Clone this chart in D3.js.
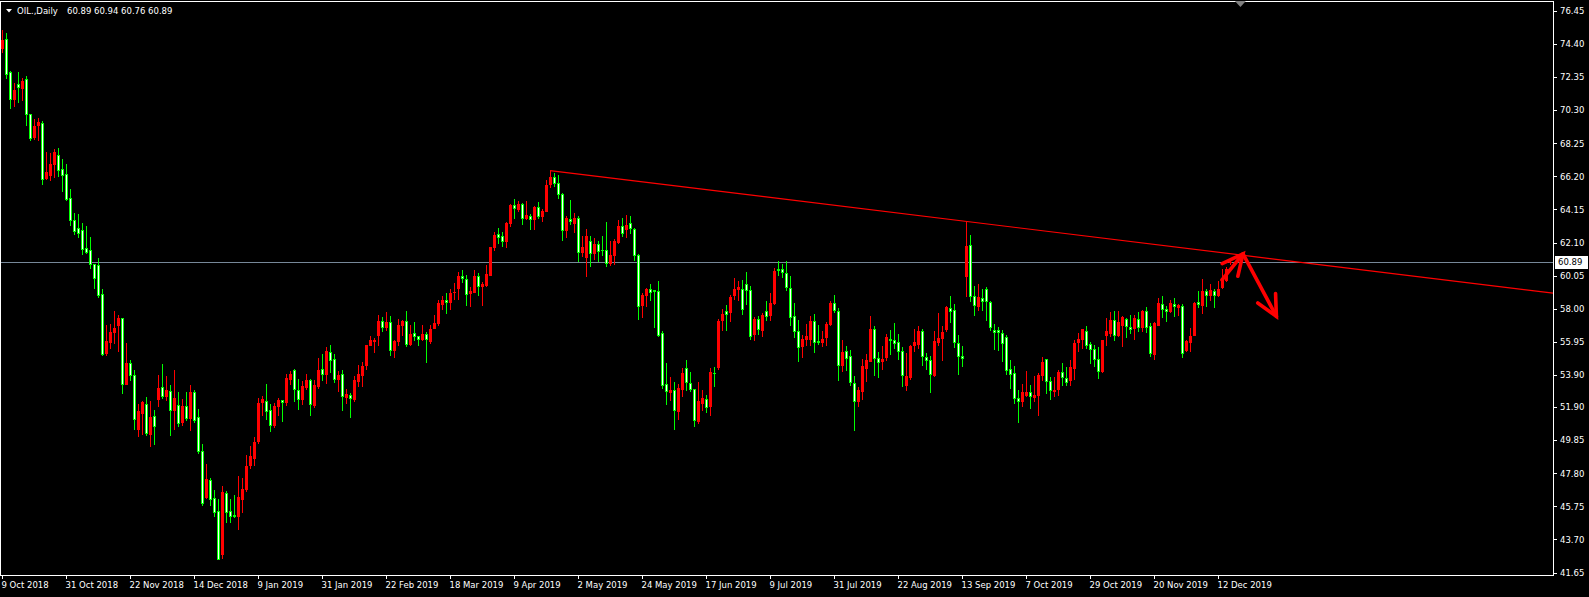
<!DOCTYPE html>
<html><head><meta charset="utf-8">
<script src="https://cdn.jsdelivr.net/npm/d3@7"></script>
<style>html,body{margin:0;padding:0;background:#000;overflow:hidden}svg{display:block}</style>
</head><body><svg id="c" width="1589" height="597"></svg>
<script>
const symbolTitle = "OIL.,Daily";
const lastBarOHLC = [60.89, 60.94, 60.76, 60.89];
const bidPrice = 60.89;

const opens = [
74.18,74.70,72.65,70.97,71.92,71.67,72.22,70.05,68.64,69.39,
69.52,66.13,66.30,66.94,67.51,66.66,66.34,64.85,63.50,63.01,
62.88,61.78,61.65,60.77,60.73,58.92,55.25,55.96,56.57,57.00,
57.43,53.36,54.66,53.91,50.56,51.52,52.12,50.26,51.33,52.43,
53.15,52.57,52.90,51.70,52.03,50.96,51.97,51.21,52.86,51.31,
49.21,46.32,47.41,46.28,45.49,42.77,46.60,45.49,45.24,45.14,
46.23,46.85,48.30,48.73,49.78,52.20,52.30,51.74,50.77,51.95,
52.36,52.20,53.66,54.22,52.94,52.43,53.15,53.60,52.05,53.23,
54.26,53.97,55.31,54.88,53.66,53.97,52.53,52.67,52.42,53.50,
53.91,54.49,55.77,55.99,56.39,57.26,56.84,57.17,55.42,55.97,
56.97,57.21,55.81,56.51,56.29,56.14,56.45,55.97,56.80,57.11,
58.31,58.55,58.39,59.01,59.26,60.04,59.84,58.95,59.05,60.04,
59.38,59.48,60.10,61.80,62.62,62.52,62.17,63.30,64.44,64.17,
64.50,63.65,63.76,63.55,64.29,63.72,64.07,65.74,66.15,65.78,
65.12,62.89,63.55,63.30,63.61,61.49,61.20,62.21,61.45,62.02,
61.65,61.65,60.83,61.34,62.11,63.14,62.95,63.30,62.93,61.32,
58.21,58.87,59.22,59.13,59.11,56.49,53.35,52.82,52.98,51.64,
53.05,54.33,53.40,53.02,51.02,52.16,52.41,51.95,54.04,54.37,
57.28,57.87,57.77,58.82,59.22,59.22,59.53,59.17,56.45,57.38,
56.70,57.87,57.59,58.35,60.48,60.48,60.21,59.28,57.52,56.64,
55.71,56.12,56.12,57.26,55.98,55.91,56.25,57.05,58.35,57.87,
54.49,55.40,55.05,53.40,52.26,52.88,54.33,54.74,56.76,54.94,
54.74,54.99,56.12,56.04,55.93,55.36,53.25,53.75,55.73,55.83,
56.64,55.01,54.80,53.91,55.91,56.18,56.74,58.04,57.94,55.87,
55.09,60.00,61.94,58.76,58.18,58.66,59.22,58.41,56.70,56.70,
56.49,56.24,54.26,54.02,52.47,52.26,52.67,52.82,52.53,52.67,
53.91,54.86,53.50,52.88,53.02,54.08,53.70,53.56,54.32,55.91,
56.12,56.59,55.81,55.52,54.88,54.12,56.39,56.49,57.32,56.35,
57.01,57.36,56.86,56.80,57.36,56.86,57.83,56.95,55.21,57.01,
58.31,58.00,57.88,58.31,58.08,58.18,55.42,55.91,56.39,58.39,
58.25,59.07,58.82,59.07,58.87,59.32,59.79,60.89];

const highs = [
75.25,75.08,72.73,71.99,72.65,72.31,72.42,70.09,69.75,69.81,
69.64,67.72,67.66,67.89,67.96,67.28,66.98,65.42,63.95,63.89,
63.33,63.14,62.46,60.80,61.16,59.24,57.00,57.06,57.87,57.58,
57.45,55.85,54.85,54.19,52.12,52.27,52.54,52.26,51.70,53.91,
54.59,53.85,53.29,54.22,52.86,52.43,52.86,53.29,52.98,51.81,
49.64,48.40,47.53,46.79,46.23,47.04,46.73,46.23,46.48,47.62,
47.51,48.94,49.51,50.03,52.47,52.61,53.35,52.12,52.16,52.47,
52.36,53.97,54.12,54.28,53.66,53.50,53.97,53.66,53.60,54.94,
55.21,55.62,55.77,55.21,54.16,54.22,53.02,52.77,53.85,54.49,
54.72,55.77,56.33,56.18,57.59,57.48,57.79,57.56,56.08,57.36,
57.32,57.87,57.01,57.17,56.33,57.01,56.53,57.01,57.59,58.51,
58.76,58.97,59.22,59.59,60.29,60.41,60.10,59.34,60.41,60.21,
59.63,60.72,61.80,62.75,62.99,62.75,63.35,64.50,64.81,64.69,
64.54,64.69,63.88,64.38,64.64,64.17,65.99,66.56,66.44,66.30,
65.20,63.72,64.75,63.92,63.72,62.52,62.93,62.52,62.37,62.21,
62.52,63.35,62.17,62.31,63.51,63.61,63.82,63.76,62.99,61.40,
58.97,59.28,59.55,59.18,59.73,56.64,54.64,53.77,53.44,53.35,
54.33,54.84,54.08,53.05,53.46,52.94,52.67,54.33,54.39,57.36,
57.98,58.25,58.87,59.90,59.73,59.79,60.27,59.42,57.48,57.57,
57.73,58.49,58.97,60.52,60.97,60.79,60.93,60.04,58.35,57.32,
56.39,57.07,57.52,57.69,57.01,56.59,57.15,58.49,58.87,58.04,
56.08,55.67,55.46,53.81,53.15,54.88,55.21,57.52,56.90,55.30,
55.71,56.45,56.66,57.11,56.45,55.62,55.25,55.77,56.74,56.90,
56.74,55.25,55.09,56.64,57.73,56.95,58.18,58.80,58.31,56.39,
55.71,63.41,62.58,59.42,59.53,59.22,59.34,58.49,57.07,56.86,
56.70,56.39,54.84,54.43,52.94,53.35,54.12,53.29,53.81,54.02,
54.99,54.90,53.77,53.75,54.22,54.63,54.39,54.84,56.04,56.49,
56.76,56.95,55.91,55.77,55.60,56.08,57.42,57.79,57.87,57.87,
57.52,57.42,57.59,57.59,57.79,57.94,58.10,57.11,57.15,58.66,
58.76,58.18,58.56,58.66,58.31,58.31,56.04,56.80,58.39,59.11,
59.83,59.22,59.55,59.22,59.73,60.48,60.60,60.94];

const lows = [
73.91,72.31,70.45,70.56,70.84,70.94,69.41,68.43,68.53,68.43,
65.70,66.04,65.98,66.19,66.25,65.29,64.76,63.16,62.61,62.46,
61.37,61.43,60.50,59.26,58.71,55.10,55.10,55.59,55.85,55.36,
52.76,53.36,53.55,50.56,50.09,50.26,50.20,49.47,49.64,51.99,
52.47,52.32,50.20,50.57,50.75,50.82,51.08,50.47,50.96,49.06,
45.82,46.28,45.86,45.14,42.46,42.56,44.77,44.77,45.10,44.33,
45.39,46.69,48.11,48.30,49.68,51.44,51.17,50.40,50.65,51.44,
51.02,52.05,53.35,52.26,51.81,52.10,53.02,51.43,51.89,53.09,
53.60,53.39,54.06,53.44,52.88,51.74,52.16,51.27,52.26,53.23,
53.19,54.26,55.77,55.29,55.77,56.63,56.70,55.11,54.98,55.73,
56.39,55.67,55.77,56.08,55.77,56.08,54.67,55.87,56.80,56.97,
57.98,57.73,57.95,58.60,58.60,59.63,58.25,58.14,59.01,58.82,
58.21,59.38,60.10,61.61,62.07,61.86,61.80,63.10,63.65,64.03,
63.26,63.55,62.95,62.93,63.61,63.41,64.03,65.57,65.61,64.89,
62.23,62.42,63.26,62.73,60.93,61.28,60.00,60.62,61.07,60.93,
61.34,60.62,60.68,60.78,62.07,62.48,62.44,62.68,60.99,57.36,
57.48,58.14,58.56,56.84,56.33,53.09,52.12,52.36,50.55,51.17,
52.61,52.98,52.88,50.71,50.92,51.70,51.58,51.44,53.23,54.26,
56.66,56.70,57.21,58.62,58.56,57.69,58.31,56.12,56.04,56.45,
56.29,57.28,57.28,58.31,60.10,59.96,59.18,57.01,56.22,54.74,
54.99,55.77,55.73,55.30,55.83,55.67,55.77,57.01,57.77,53.56,
54.12,54.22,53.29,50.51,51.95,52.41,53.54,54.74,53.91,53.75,
54.26,54.84,55.21,55.56,54.88,53.23,52.94,53.66,55.36,55.56,
54.53,54.28,52.82,53.81,55.73,54.80,56.60,57.15,55.61,53.97,
54.43,58.76,58.45,57.63,57.94,57.94,57.32,56.66,55.52,55.42,
54.74,53.97,53.09,52.16,50.96,51.99,52.57,51.85,52.30,51.39,
53.60,52.78,52.41,52.57,52.67,53.29,53.29,53.29,53.64,55.40,
55.56,55.56,54.63,54.43,53.70,54.06,55.77,56.28,56.08,56.33,
55.71,56.22,56.49,56.12,56.59,56.59,56.53,55.05,54.88,57.01,
57.46,57.22,57.77,57.52,57.63,55.00,55.36,55.36,56.39,58.08,
57.73,58.18,58.51,58.08,58.76,59.28,59.70,60.76];

const closes = [
74.65,72.52,70.99,71.56,71.71,72.09,70.05,68.60,69.32,69.54,
66.02,66.45,66.98,67.72,66.62,66.30,64.80,63.52,62.84,62.67,
61.73,61.54,60.75,59.90,58.83,55.21,56.02,56.57,56.83,57.41,
53.33,54.61,53.87,51.16,51.63,52.20,50.28,51.29,50.71,53.09,
52.57,52.98,51.74,52.47,50.92,51.95,51.21,52.86,51.08,49.16,
45.97,47.47,46.21,45.41,42.46,46.67,45.39,45.14,45.14,46.30,
46.85,48.28,48.85,49.76,52.16,52.39,51.64,50.77,51.99,52.36,
52.20,53.73,53.95,53.02,52.40,53.21,53.60,52.10,53.27,54.22,
53.97,55.40,54.84,53.66,53.91,52.57,52.73,52.45,53.60,53.97,
54.47,55.77,56.08,56.08,57.26,56.86,57.17,55.42,56.02,57.01,
57.26,55.81,56.45,56.29,56.14,56.45,56.12,56.76,57.11,58.35,
58.55,58.39,58.99,59.05,60.04,59.88,58.91,59.11,60.04,59.38,
59.55,60.17,61.80,62.58,62.46,62.17,63.30,64.44,64.21,64.50,
63.65,63.82,63.55,64.33,63.72,64.03,65.68,66.15,65.78,65.10,
62.85,63.61,63.41,63.61,61.49,61.82,62.52,61.45,62.02,61.55,
61.61,60.83,61.34,62.17,63.14,62.68,63.20,62.99,61.34,58.14,
58.87,59.22,59.03,59.07,56.39,53.25,52.88,52.94,51.70,53.09,
54.02,53.44,53.05,51.09,52.26,52.47,51.91,54.08,54.00,57.21,
57.67,57.69,58.72,59.24,59.32,57.98,59.13,56.29,57.38,56.76,
57.63,57.52,58.35,60.31,60.37,60.25,59.34,57.48,56.60,55.63,
56.12,56.29,57.21,55.91,55.91,56.12,57.07,58.35,57.94,54.49,
55.30,54.94,53.44,52.26,52.98,54.43,54.84,56.76,54.94,54.68,
54.90,56.22,56.08,55.87,55.36,53.91,53.85,55.71,55.93,56.64,
55.05,54.80,53.95,56.02,56.18,56.55,58.08,57.83,55.91,55.09,
54.92,61.86,58.80,58.25,58.70,58.45,58.45,56.84,56.55,56.53,
55.87,54.22,53.97,52.47,52.26,52.84,52.82,52.57,52.67,53.91,
54.70,53.50,52.98,52.98,54.06,53.75,53.46,54.39,55.87,56.12,
56.74,55.77,55.52,54.88,54.16,56.08,56.59,57.28,56.35,57.15,
57.46,56.90,56.76,57.42,56.84,57.83,56.86,55.25,57.11,58.35,
57.98,57.88,58.35,58.14,58.25,55.25,55.98,56.33,58.35,58.31,
59.07,58.87,59.13,58.82,59.22,59.79,60.45,60.89];

const dateLabels = ["9 Oct 2018","31 Oct 2018","22 Nov 2018","14 Dec 2018","9 Jan 2019",
  "31 Jan 2019","22 Feb 2019","18 Mar 2019","9 Apr 2019","2 May 2019","24 May 2019",
  "17 Jun 2019","9 Jul 2019","31 Jul 2019","22 Aug 2019","13 Sep 2019","7 Oct 2019",
  "29 Oct 2019","20 Nov 2019","12 Dec 2019"];
const barsPerDateLabel = 16;

const priceTicks = [76.45,74.40,72.35,70.30,68.25,66.20,64.15,62.10,60.05,58.00,
  55.95,53.90,51.90,49.85,47.80,45.75,43.70,41.65];

const trendPoints = [{bar:137, price:66.56}, {bar:241, price:63.41}];
const arrowUp = [{bar:305, price:59.79}, {bar:310.25, price:61.40}];
const arrowDown = [{bar:310.25, price:61.40}, {bar:318.6, price:57.52}];
const chartShiftBar = 309.6;

// ---------------------------------------------------------------
const FONT = "'DejaVu Sans', sans-serif";
const svg = d3.select("#c");
const plot = {left:0, top:1, right:1554, bottom:575};

const x = d3.scaleLinear().domain([-0.5, 387.75]).range([0, 1553]);
const y = d3.scaleLinear().domain([41.65, 76.45]).range([572.5, 11]);

svg.append("rect").attr("width",1589).attr("height",597).attr("fill","#000");

svg.append("defs").append("clipPath").attr("id","plotclip")
  .append("rect").attr("x",plot.left).attr("y",plot.top)
  .attr("width",plot.right-plot.left).attr("height",plot.bottom-plot.top);

const g = svg.append("g").attr("clip-path","url(#plotclip)");

// bid line
const yb = Math.round(y(bidPrice)) + 0.5;
g.append("line").attr("x1",plot.left).attr("x2",plot.right).attr("y1",yb).attr("y2",yb)
  .attr("stroke","#778899").attr("stroke-width",1);

// candles
const bars = opens.map((o,i)=>({i, o, h:highs[i], l:lows[i], c:closes[i]}));
const cg = g.append("g").attr("shape-rendering","crispEdges");
bars.forEach(d=>{
  const cx = Math.round(x(d.i));
  const up = d.c >= d.o;
  const col = up ? "#ff0000" : "#00ff00";
  const yh = Math.round(y(d.h)), yl = Math.round(y(d.l));
  const yt = Math.round(y(Math.max(d.o,d.c))), ybm = Math.round(y(Math.min(d.o,d.c)));
  cg.append("rect").attr("x",cx).attr("y",yh).attr("width",1).attr("height",Math.max(1,yl-yh+1)).attr("fill",col);
  const bh = Math.max(1, ybm-yt+1);
  cg.append("rect").attr("x",cx-1).attr("y",yt).attr("width",3).attr("height",bh).attr("fill",col);
  if(!up && bh>=3){
    cg.append("rect").attr("x",cx).attr("y",yt+1).attr("width",1).attr("height",bh-2).attr("fill","#ffffff");
  }
});

// trend line (ray to the right edge)
const slope = (trendPoints[1].price - trendPoints[0].price)/(trendPoints[1].bar - trendPoints[0].bar);
const endBar = x.domain()[1];
g.append("line")
  .attr("x1", x(trendPoints[0].bar)).attr("y1", y(trendPoints[0].price))
  .attr("x2", x(endBar)).attr("y2", y(trendPoints[0].price + slope*(endBar-trendPoints[0].bar)))
  .attr("stroke","#ff0000").attr("stroke-width",1.2);

// arrows
function drawArrow(pts){
  const p0=[x(pts[0].bar), y(pts[0].price)], p1=[x(pts[1].bar), y(pts[1].price)];
  g.append("path").attr("d", d3.line()([p0,p1]))
    .attr("stroke","#ff0000").attr("stroke-width",3.6).attr("fill","none").attr("stroke-linecap","round");
  const ang = Math.atan2(p0[1]-p1[1], p0[0]-p1[0]);
  const L = 23, da = 26*Math.PI/180;
  const b1=[p1[0]+L*Math.cos(ang+da), p1[1]+L*Math.sin(ang+da)];
  const b2=[p1[0]+L*Math.cos(ang-da), p1[1]+L*Math.sin(ang-da)];
  g.append("path").attr("d", d3.line()([b1,p1,b2]))
    .attr("stroke","#ff0000").attr("stroke-width",3.6).attr("fill","none")
    .attr("stroke-linecap","round").attr("stroke-linejoin","miter");
}
drawArrow(arrowUp);
drawArrow(arrowDown);

// frame
svg.append("rect").attr("x",0.5).attr("y",1.5).attr("width",1553).attr("height",574)
  .attr("fill","none").attr("stroke","#ffffff").attr("stroke-width",1).attr("shape-rendering","crispEdges");

// right price axis
const ya = svg.append("g").attr("transform","translate(1553,0)")
  .call(d3.axisRight(y).tickValues(priceTicks).tickSize(4).tickPadding(3).tickFormat(d3.format(".2f")));
ya.select(".domain").remove();
ya.selectAll("line").attr("stroke","#fff").attr("shape-rendering","crispEdges");
ya.selectAll("text").attr("fill","#fff").style("font-family",FONT).style("font-size","8.5px");

// bottom date axis
const tickBars = dateLabels.map((d,k)=>k*barsPerDateLabel);
const xa = svg.append("g").attr("transform","translate(0,575)")
  .call(d3.axisBottom(x).tickValues(tickBars).tickSize(4).tickPadding(2.5)
    .tickFormat((d,k)=>dateLabels[k]));
xa.select(".domain").remove();
xa.selectAll("line").attr("stroke","#fff").attr("shape-rendering","crispEdges");
xa.selectAll("text").attr("fill","#fff").attr("text-anchor","start").attr("dx","-1")
  .style("font-family",FONT).style("font-size","8.5px");

// bid price label
const bl = svg.append("g");
bl.append("rect").attr("x",1555).attr("y",yb-6.5).attr("width",33).attr("height",13).attr("fill","#fff");
bl.append("text").attr("x",1558).attr("y",yb).attr("dy","0.35em").attr("fill","#000")
  .style("font-family",FONT).style("font-size","8.5px").text(d3.format(".2f")(bidPrice));

// chart shift marker
const sx = x(chartShiftBar);
svg.append("path").attr("d", d3.line()([[sx-5.5,1],[sx+5.5,1],[sx,7]])+"Z").attr("fill","#808080");

// header
svg.append("path").attr("d", d3.line()([[6,9],[12,9],[9,12.5]])+"Z").attr("fill","#fff");
const ht = svg.append("text").attr("y",14).attr("fill","#fff").style("font-family",FONT).style("font-size","8.5px");
ht.append("tspan").attr("x",17).text(symbolTitle);
ht.append("tspan").attr("x",67).text(lastBarOHLC.map(d3.format(".2f")).join(" "));
</script>
</body></html>
